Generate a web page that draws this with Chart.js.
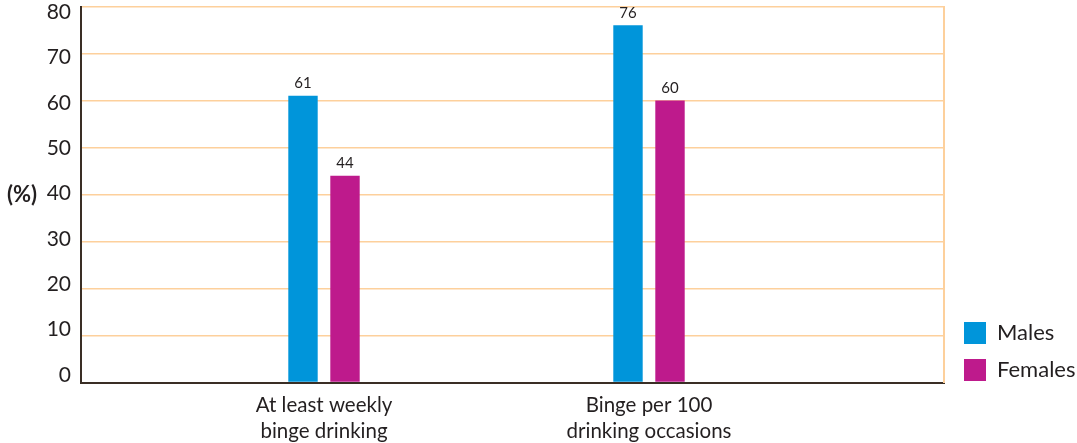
<!DOCTYPE html>
<html>
<head>
<meta charset="utf-8">
<script src="https://cdn.jsdelivr.net/npm/chart.js@4"></script>
<style>
html, body { margin: 0; padding: 0; background: #fff; }
#wrap { width: 1077px; height: 443px; position: relative; }
</style>
</head>
<body>
<div id="wrap"><canvas id="grafico"></canvas></div>
<script>
// datos
const categorias = [['At least weekly', 'binge drinking'], ['Binge per 100', 'drinking occasions']];
const posiciones = [1, 2];
const hombres = [61, 76];
const mujeres = [44, 60];
const series = ['Males', 'Females'];
const yTitulo = '(%)';

const colores = {
    azul: '#0095da',
    magenta: '#be1a8c',
    rejilla: '#fdd09c',
    eje: '#3a2e25',
    texto: '#231f20'
};
const fuente = 'Lato, "Open Sans", sans-serif';

// etiquetas encima de las barras
const etiquetasBarras = {
    id: 'etiquetasBarras',
    afterDatasetsDraw(chart) {
        const ctx = chart.ctx;
        ctx.save();
        ctx.font = '15px ' + fuente;
        ctx.fillStyle = colores.texto;
        ctx.textAlign = 'center';
        ctx.textBaseline = 'bottom';
        chart.data.datasets.forEach((ds, i) => {
            chart.getDatasetMeta(i).data.forEach((bar, j) => {
                ctx.fillText(ds.data[j].y, bar.x, bar.y - 5);
            });
        });
        ctx.restore();
    }
};

// título del eje y, horizontal junto al 40
const tituloY = {
    id: 'tituloY',
    afterDraw(chart) {
        const ctx = chart.ctx;
        const y = chart.scales.yEtiquetas.getPixelForValue(40);
        ctx.save();
        ctx.font = 'bold 22px ' + fuente;
        ctx.fillStyle = colores.texto;
        ctx.textAlign = 'left';
        ctx.textBaseline = 'middle';
        ctx.fillText(yTitulo, 7, y + 1);
        ctx.restore();
    }
};

// coloca la leyenda: un poco a la derecha del área y algo por debajo
const leyendaPos = {
    id: 'leyendaPos',
    afterLayout(chart) {
        chart.legend.left = chart.chartArea.right + 5;
        chart.legend.bottom = chart.chartArea.bottom + 13.5;
    }
};

const toPuntos = vals => posiciones.map((x, i) => ({ x: x, y: vals[i] }));

new Chart(document.getElementById('grafico').getContext('2d'), {
    type: 'bar',
    data: {
        datasets: [
            { label: series[0], data: toPuntos(hombres), backgroundColor: colores.azul, borderWidth: 0 },
            { label: series[1], data: toPuntos(mujeres), backgroundColor: colores.magenta, borderWidth: 0 }
        ]
    },
    options: {
        responsive: true,
        maintainAspectRatio: false,
        animation: false,
        categoryPercentage: 0.2585,
        barPercentage: 0.70,
        layout: { padding: { left: 0, top: 6.5, right: 0, bottom: 0 } },
        scales: {
            x: {
                type: 'linear',
                offset: false,
                min: 0.2523,
                max: 2.9077,
                afterBuildTicks: scale => { scale.ticks = posiciones.map(v => ({ value: v })); },
                afterFit: scale => { scale.height = 60.5; },
                grid: { display: false, drawTicks: false },
                border: { color: colores.eje, width: 2 },
                ticks: {
                    callback: v => categorias[posiciones.indexOf(v)],
                    color: colores.texto,
                    font: { family: fuente, size: 20.5, lineHeight: 1.25 },
                    padding: 10,
                    maxRotation: 0,
                    autoSkip: false
                }
            },
            // eje con la rejilla
            y: {
                min: 0,
                max: 80,
                weight: 0,
                afterFit: scale => { scale.width = 0; scale.paddingTop = 0; scale.paddingBottom = 0; },
                grid: { color: colores.rejilla, lineWidth: 1.5, drawTicks: false },
                border: { color: colores.eje, width: 2 },
                ticks: { stepSize: 10, display: false }
            },
            // eje con las etiquetas, algo desplazadas como en el original
            yEtiquetas: {
                position: 'left',
                min: -1.65,
                max: 81.3,
                weight: 1,
                afterFit: scale => { scale.width = 81; scale.paddingTop = 0; scale.paddingBottom = 0; },
                grid: { display: false, drawTicks: false },
                border: { display: false },
                ticks: {
                    stepSize: 10,
                    includeBounds: false,
                    color: colores.texto,
                    font: { family: fuente, size: 21 },
                    padding: 10
                }
            },
            y2: {
                position: 'right',
                min: 0,
                max: 80,
                afterFit: scale => { scale.width = 3; scale.paddingTop = 0; scale.paddingBottom = 0; },
                grid: { display: false, drawTicks: false },
                border: { color: colores.rejilla, width: 2 },
                ticks: { display: false }
            }
        },
        plugins: {
            legend: {
                position: 'right',
                align: 'end',
                maxWidth: 130,
                labels: {
                    boxWidth: 22,
                    boxHeight: 22,
                    padding: 15,
                    color: colores.texto,
                    font: { family: fuente, size: 22 }
                }
            },
            tooltip: { enabled: false }
        }
    },
    plugins: [etiquetasBarras, tituloY, leyendaPos]
});
</script>
</body>
</html>
